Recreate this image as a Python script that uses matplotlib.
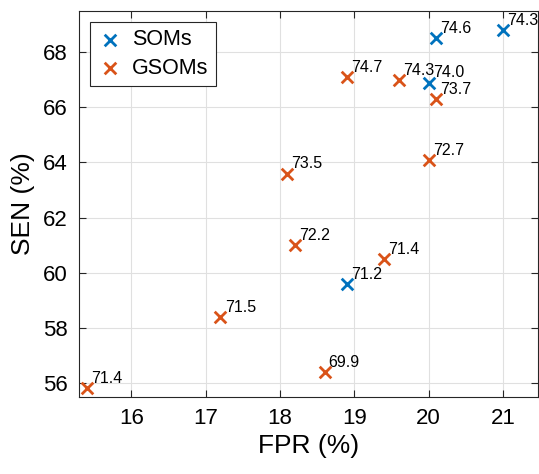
import matplotlib.pyplot as plt
import numpy as np

plt.rcParams["font.family"] = ["Liberation Sans", "DejaVu Sans"]

# SOMs
som_fpr = [20.1, 21.0, 20.0, 18.9]
som_sen = [68.5, 68.8, 66.9, 59.6]
som_lab = ["74.6", "74.3", "74.0", "71.2"]

# GSOMs
gsom_fpr = [18.9, 19.6, 20.1, 20.0, 18.1, 18.2, 19.4, 17.2, 18.6, 15.4]
gsom_sen = [67.1, 67.0, 66.3, 64.1, 63.6, 61.0, 60.5, 58.4, 56.4, 55.8]
gsom_lab = ["74.7", "74.3", "73.7", "72.7", "73.5", "72.2", "71.4", "71.5", "69.9", "71.4"]

x_ticks = [16, 17, 18, 19, 20, 21]
y_ticks = [56, 58, 60, 62, 64, 66, 68]

blue = "#0072BD"
orange = "#D95319"


def main():
    fig = plt.figure(figsize=(5.39, 4.74), dpi=100)
    ax = fig.add_axes([0.147, 0.163, 0.851, 0.814])

    ax.scatter(som_fpr, som_sen, marker="x", s=70, color=blue, linewidths=2, label="SOMs", zorder=3)
    ax.scatter(gsom_fpr, gsom_sen, marker="x", s=70, color=orange, linewidths=2, label="GSOMs", zorder=3)

    # 各点の値ラベル
    for xs, ys, labs in [(som_fpr, som_sen, som_lab), (gsom_fpr, gsom_sen, gsom_lab)]:
        for x, y, t in zip(xs, ys, labs):
            ax.annotate(t, (x, y), xytext=(3, 7), textcoords="offset points",
                        fontsize=11.5, ha="left", va="center", zorder=4)

    ax.set_xlim(15.3, 21.47)
    ax.set_ylim(55.5, 69.5)
    ax.set_xticks(x_ticks)
    ax.set_yticks(y_ticks)
    ax.tick_params(direction="in", length=5, width=0.8, labelsize=16, colors="#262626",
                   top=True, right=True, pad=8)
    ax.tick_params(labelcolor="black")
    for s in ax.spines.values():
        s.set_color("#262626")
        s.set_linewidth(0.8)
    ax.grid(True, color="#e0e0e0", linewidth=0.8)
    ax.set_axisbelow(True)

    ax.set_xlabel("FPR (%)", fontsize=19, labelpad=4)
    ax.set_ylabel("SEN (%)", fontsize=19, labelpad=6)

    leg = ax.legend(loc="upper left", fontsize=15.5, frameon=True, fancybox=False,
                    edgecolor="#262626", framealpha=1, handletextpad=0.4,
                    borderpad=0.35, labelspacing=0.35, handlelength=1.2,
                    borderaxespad=0.5)
    leg.get_frame().set_linewidth(0.8)

    fig.savefig("out.png", dpi=100)
    plt.close(fig)


if __name__ == "__main__":
    main()
